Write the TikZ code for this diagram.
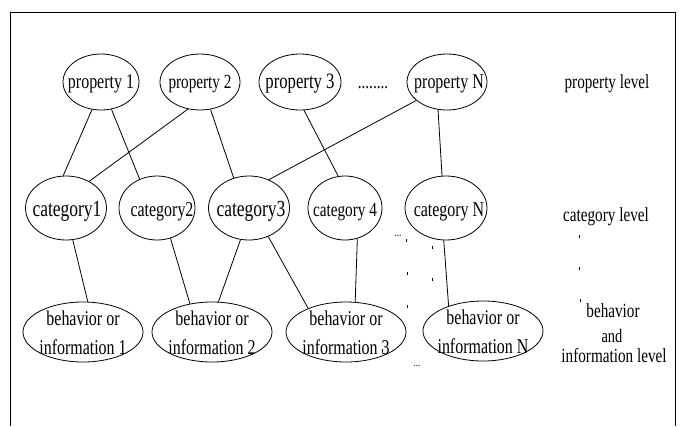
\documentclass[tikz,border=0pt]{standalone}
\usepackage{fontspec}
\setmainfont{Liberation Serif}[FakeStretch=0.76]
\usetikzlibrary{shapes.geometric,calc}
\newcommand{\fs}[1]{\fontsize{#1}{#1}\selectfont}
\begin{document}
\begin{tikzpicture}[x=1pt,y=-1pt,
  ell/.style={draw, ellipse, inner sep=0pt, line width=0.8pt},
  link/.style={line width=0.8pt},
  txt/.style={inner sep=0pt, anchor=base},
  tick/.style={line width=0.8pt}]
\useasboundingbox (0,0) rectangle (682,426);
% outer frame, open at the bottom
\draw[line width=1pt] (10,426) -- (10,12) -- (675,12) -- (675,426);

% property level
\node[ell, minimum width=76, minimum height=56] (p1) at (101,82) {};
\node[ell, minimum width=80, minimum height=56] (p2) at (200,82) {};
\node[ell, minimum width=82, minimum height=56] (p3) at (300,82) {};
\node[ell, minimum width=80, minimum height=56] (pN) at (447,82) {};
\node[txt, font=\fs{21}] (p1t) at ($(p1)+(0,6)$) {property 1};
\node[txt, font=\fs{20}] (p2t) at ($(p2)+(0,6)$) {property 2};
\node[txt, font=\fs{22}] (p3t) at ($(p3)+(0,6)$) {property 3};
\node[txt, font=\fs{21}] (pNt) at ($(pN)+(2,6)$) {property N};
\node[txt, font=\fs{20}] (pdots) at (373,88) {........};

% category level
\node[ell, minimum width=81, minimum height=64] (c1) at (66,208) {};
\node[ell, minimum width=76, minimum height=64] (c2) at (157,208) {};
\node[ell, minimum width=81, minimum height=64] (c3) at (249,208) {};
\node[ell, minimum width=74, minimum height=64] (c4) at (345,208) {};
\node[ell, minimum width=82, minimum height=64] (cN) at (446,208) {};
\node[txt, font=\fs{23}] (c1t) at ($(c1)+(1,8)$) {category1};
\node[txt, font=\fs{21}] (c2t) at ($(c2)+(5,8)$) {category2};
\node[txt, font=\fs{23}] (c3t) at ($(c3)+(2,8)$) {category3};
\node[txt, font=\fs{20}] (c4t) at ($(c4)+(0,8)$) {category 4};
\node[txt, font=\fs{21}] (cNt) at ($(cN)+(3,8)$) {category N};

% behavior / information level
\node[ell, minimum width=120, minimum height=60] (b1) at (83,332) {};
\node[ell, minimum width=120, minimum height=60] (b2) at (212,332) {};
\node[ell, minimum width=120, minimum height=60] (b3) at (346,332) {};
\node[ell, minimum width=120, minimum height=60] (bN) at (483,331) {};
\foreach \b/\n in {b1/1, b2/2, b3/3, bN/N}{
  \node[txt, font=\fs{21}] (\b a) at ($(\b)+(0,-7)$) {behavior or};
  \node[txt, font=\fs{21}] (\b b) at ($(\b)+(0,22)$) {information \n};
}

% level captions
\node[txt, font=\fs{20}] (lp) at (607,88) {property level};
\node[txt, font=\fs{20}] (lc) at (606,221) {category level};
\node[txt, font=\fs{20}] (lb1) at (613,317) {behavior};
\node[txt, font=\fs{19}] (lb2) at (612,342) {and};
\node[txt, font=\fs{20}] (lb3) at (614,362) {information level};

% links between levels
\draw[link] (p1.252) -- (c1.95);
\draw[link] (p1.291) -- (c2.121);
\draw[link] (p2.246) -- (c1.49);
\draw[link] (p2.291) -- (c3.117);
\draw[link] (p3.278) -- (c4.102);
\draw[link] (pN.211) -- (c3.55);
\draw[link] (pN.252) -- (cN.97);
\draw[link] (c1.282) -- (b1.81);
\draw[link] (c2.294) -- (b2.128);
\draw[link] (c3.255) -- (b2.78);
\draw[link] (c3.304) -- (b3.148);
\draw[link] (c4.292) -- (b3.73);
\draw[link] (cN.266) -- (bN.144);

% continuation marks
\node[txt, font=\fs{12}] (cdots) at (398,236) {...};
\node[txt, font=\fs{12}] (bdots) at (417,366) {...};
\foreach \x/\y in {406/239, 407/272, 407/305, 432/246, 432/278,
                   579/235, 579/267, 580/299, 382/349}{
  \draw[tick] (\x,\y) -- ++(0,3);
}
\end{tikzpicture}
\end{document}
